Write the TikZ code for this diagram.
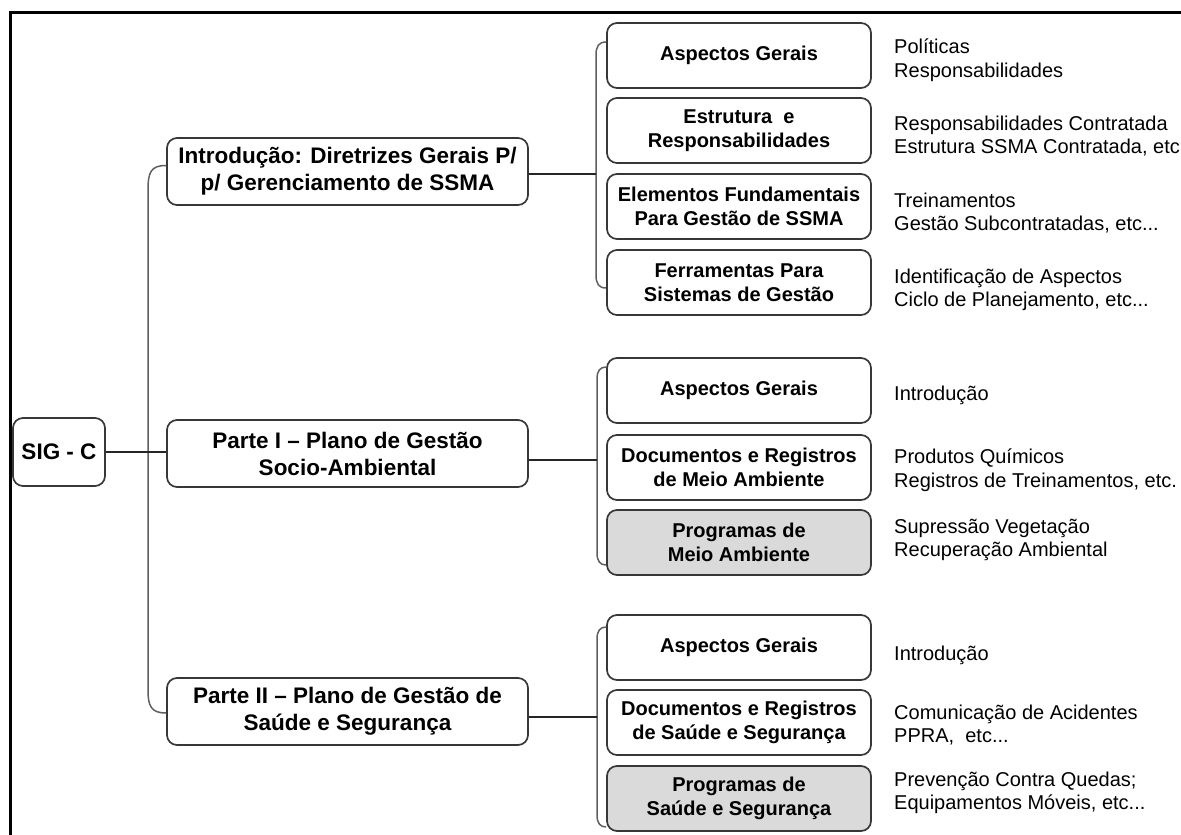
\documentclass[tikz,border=0pt]{standalone}
\usepackage{fontspec}
\setmainfont{Liberation Sans}
\definecolor{boxline}{RGB}{55,55,55}
\definecolor{bracketline}{RGB}{95,95,95}
\definecolor{prgfill}{RGB}{218,218,218}
\begin{document}
\begin{tikzpicture}[x=1pt,y=-1pt,
  topbox/.style={draw=boxline, line width=1.7pt, rounded corners=10pt, fill=white,
    align=center, inner sep=0pt, font=\bfseries\fontsize{22.5}{27}\selectfont},
  subbox/.style={draw=boxline, line width=1.7pt, rounded corners=10pt, fill=white,
    align=center, inner sep=0pt, minimum width=264pt, minimum height=65pt,
    font=\bfseries\fontsize{20}{24.5}\selectfont},
  prgbox/.style={subbox, fill=prgfill},
  note/.style={anchor=west, align=left, inner sep=0pt, font=\fontsize{20}{23.5}\selectfont},
  conn/.style={draw=black!85, line width=1.4pt},
  brace/.style={draw=bracketline, line width=1.5pt}]
\useasboundingbox (0,0) rectangle (1181,835);
\fill[white] (0,0) rectangle (1181,835);
% outer frame (open to the right and bottom)
\draw[line width=2.6pt] (10.5,835) -- (10.5,12.5) -- (1181,12.5);

% root and main sections
\node[topbox, minimum width=92pt, minimum height=68pt] (root) at (59,452) {SIG - C};
\node[topbox, minimum width=361pt, minimum height=67pt] (intro) at (347.5,171.5)
  {Introdução: Diretrizes Gerais P/\\p/ Gerenciamento de SSMA};
\node[topbox, minimum width=361pt, minimum height=67pt] (p1) at (347.5,453.5)
  {Parte I – Plano de Gestão\\Socio-Ambiental};
\node[topbox, minimum width=361pt, minimum height=67pt] (p2) at (347.5,711.5)
  {Parte II – Plano de Gestão de\\Saúde e Segurança};

% children of the introduction
\node[subbox] (a1) at (739,55.5) {Aspectos Gerais};
\node[subbox] (a2) at (739,130.5) {Estrutura\ \ e\\Responsabilidades};
\node[subbox] (a3) at (739,206.5) {Elementos Fundamentais\\Para Gestão de SSMA};
\node[subbox] (a4) at (739,282.5) {Ferramentas Para\\Sistemas de Gestão};

% children of part I
\node[subbox] (b1) at (739,390.5) {Aspectos Gerais};
\node[subbox] (b2) at (739,467.5) {Documentos e Registros\\de Meio Ambiente};
\node[prgbox] (b3) at (739,542.5) {Programas de\\Meio Ambiente};

% children of part II
\node[subbox] (c1) at (739,647.5) {Aspectos Gerais};
\node[subbox] (c2) at (739,722.5) {Documentos e Registros\\de Saúde e Segurança};
\node[prgbox] (c3) at (739,798.5) {Programas de\\Saúde e Segurança};

% notes beside the leaves
\node[note] (na1) at (894,60) {Políticas\\Responsabilidades};
\node[note] (na2) at (894,136) {Responsabilidades Contratada\\Estrutura SSMA Contratada, etc};
\node[note] (na3) at (894,213) {Treinamentos\\Gestão Subcontratadas, etc...};
\node[note] (na4) at (894,290) {Identificação de Aspectos\\Ciclo de Planejamento, etc...};
\node[note] (nb1) at (894,395) {Introdução};
\node[note] (nb2) at (894,470) {Produtos Químicos\\Registros de Treinamentos, etc.};
\node[note] (nb3) at (894,540) {Supressão Vegetação\\Recuperação Ambiental};
\node[note] (nc1) at (894,655) {Introdução};
\node[note] (nc2) at (894,725) {Comunicação de Acidentes\\PPRA,\ \ etc...};
\node[note] (nc3) at (894,793) {Prevenção Contra Quedas;\\Equipamentos Móveis, etc...};

% bracket joining the three main sections
\coordinate (r0) at (148,452);
\coordinate (r1) at (intro.west |- 0,165.5);
\coordinate (r3) at (p2.west |- 0,713);
\draw[brace] (r1) .. controls (151,165.5) and (148,172) .. (148,190)
  -- (148,690) .. controls (148,706) and (151,713) .. (r3);
\draw[conn] (root.east) -- (r0) -- (r0 -| p1.west);

% bracket of the introduction children
\coordinate (g1) at (596,174);
\coordinate (a1k) at (a1.west |- 0,42);
\coordinate (a4k) at (a4.west |- 0,288);
\draw[brace] (a1k) .. controls (599,42) and (596,46) .. (596,55)
  -- (596,275) .. controls (596,284) and (599,288) .. (a4k);
\draw[conn] (intro.east |- g1) -- (g1);

% bracket of part I children
\coordinate (g2) at (597,460);
\coordinate (b1k) at (b1.west |- 0,367);
\coordinate (b3k) at (b3.west |- 0,565);
\draw[brace] (b1k) .. controls (600,367) and (597,371) .. (597,379)
  -- (597,553) .. controls (597,561) and (600,565) .. (b3k);
\draw[conn] (p1.east |- g2) -- (g2);

% bracket of part II children
\coordinate (g3) at (597,717);
\coordinate (c1k) at (c1.west |- 0,627);
\coordinate (c3k) at (c3.west |- 0,827);
\draw[brace] (c1k) .. controls (600,627) and (597,631) .. (597,639)
  -- (597,815) .. controls (597,823) and (600,827) .. (c3k);
\draw[conn] (p2.east |- g3) -- (g3);
\end{tikzpicture}
\end{document}
